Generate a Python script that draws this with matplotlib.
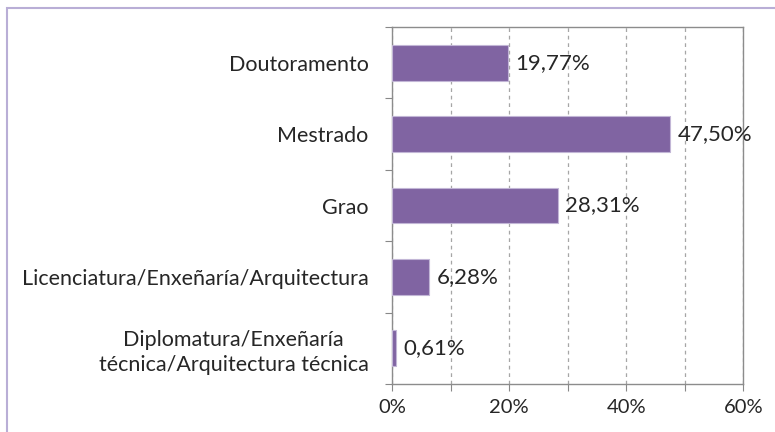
import matplotlib.pyplot as plt
from matplotlib.patches import Rectangle
from matplotlib.ticker import MultipleLocator, FuncFormatter

categories = ["Diplomatura/Enxeñaría\ntécnica/Arquitectura técnica",
              "Licenciatura/Enxeñaría/Arquitectura",
              "Grao",
              "Mestrado",
              "Doutoramento"]
values = [0.61, 6.28, 28.31, 47.50, 19.77]
value_labels = ["0,61%", "6,28%", "28,31%", "47,50%", "19,77%"]

plt.rcParams['font.family'] = ['Lato', 'DejaVu Sans']

fig = plt.figure(figsize=(7.75, 4.32), dpi=100)
ax = fig.add_axes([0.506, 0.111, 0.453, 0.8265])

# outer chart frame (cut off at right/bottom like the screenshot)
fig.patches.append(Rectangle((7 / 775, -0.1), 1.2, 1 - 8 / 432 + 0.1,
                             transform=fig.transFigure, fill=False,
                             edgecolor='#b9aed6', lw=1.5))

y = range(len(categories))
ax.barh(y, values, height=0.5, color='#8064A2', edgecolor='#c2b6d6', lw=0.8, zorder=3)
for yi, v, lab in zip(y, values, value_labels):
    ax.text(v + 1.3, yi, lab, va='center', ha='left', fontsize=16, color='#262626', zorder=4)

ax.set_xlim(0, 60)
ax.set_ylim(-0.5, len(categories) - 0.5)
ax.xaxis.set_major_locator(MultipleLocator(10))
ax.xaxis.set_major_formatter(FuncFormatter(lambda x, p: f"{x:.0f}%" if int(round(x)) % 20 == 0 else ""))
ax.grid(axis='x', ls=(0, (3, 3)), color='#a6a6a6', lw=0.9, zorder=0)

ax.set_yticks([i + 0.5 for i in range(-1, len(categories))])
ax.set_yticklabels([])
ax.set_yticks(list(y), minor=True)
ax.set_yticklabels(categories, minor=True, fontsize=15.5, color='#262626')
ax.tick_params(axis='y', which='minor', length=0, pad=17)
ax.tick_params(axis='y', which='major', length=5, color='#888888', direction='out')
ax.tick_params(axis='x', length=5, color='#888888', labelsize=14.5, labelcolor='#262626', pad=6)
for lab in ax.get_yticklabels(minor=True):
    lab.set_multialignment('center')
    lab.set_linespacing(1.3)

for s in ax.spines.values():
    s.set_color('#8c8c8c')
    s.set_linewidth(1.0)

fig.savefig('out.png', dpi=100)
